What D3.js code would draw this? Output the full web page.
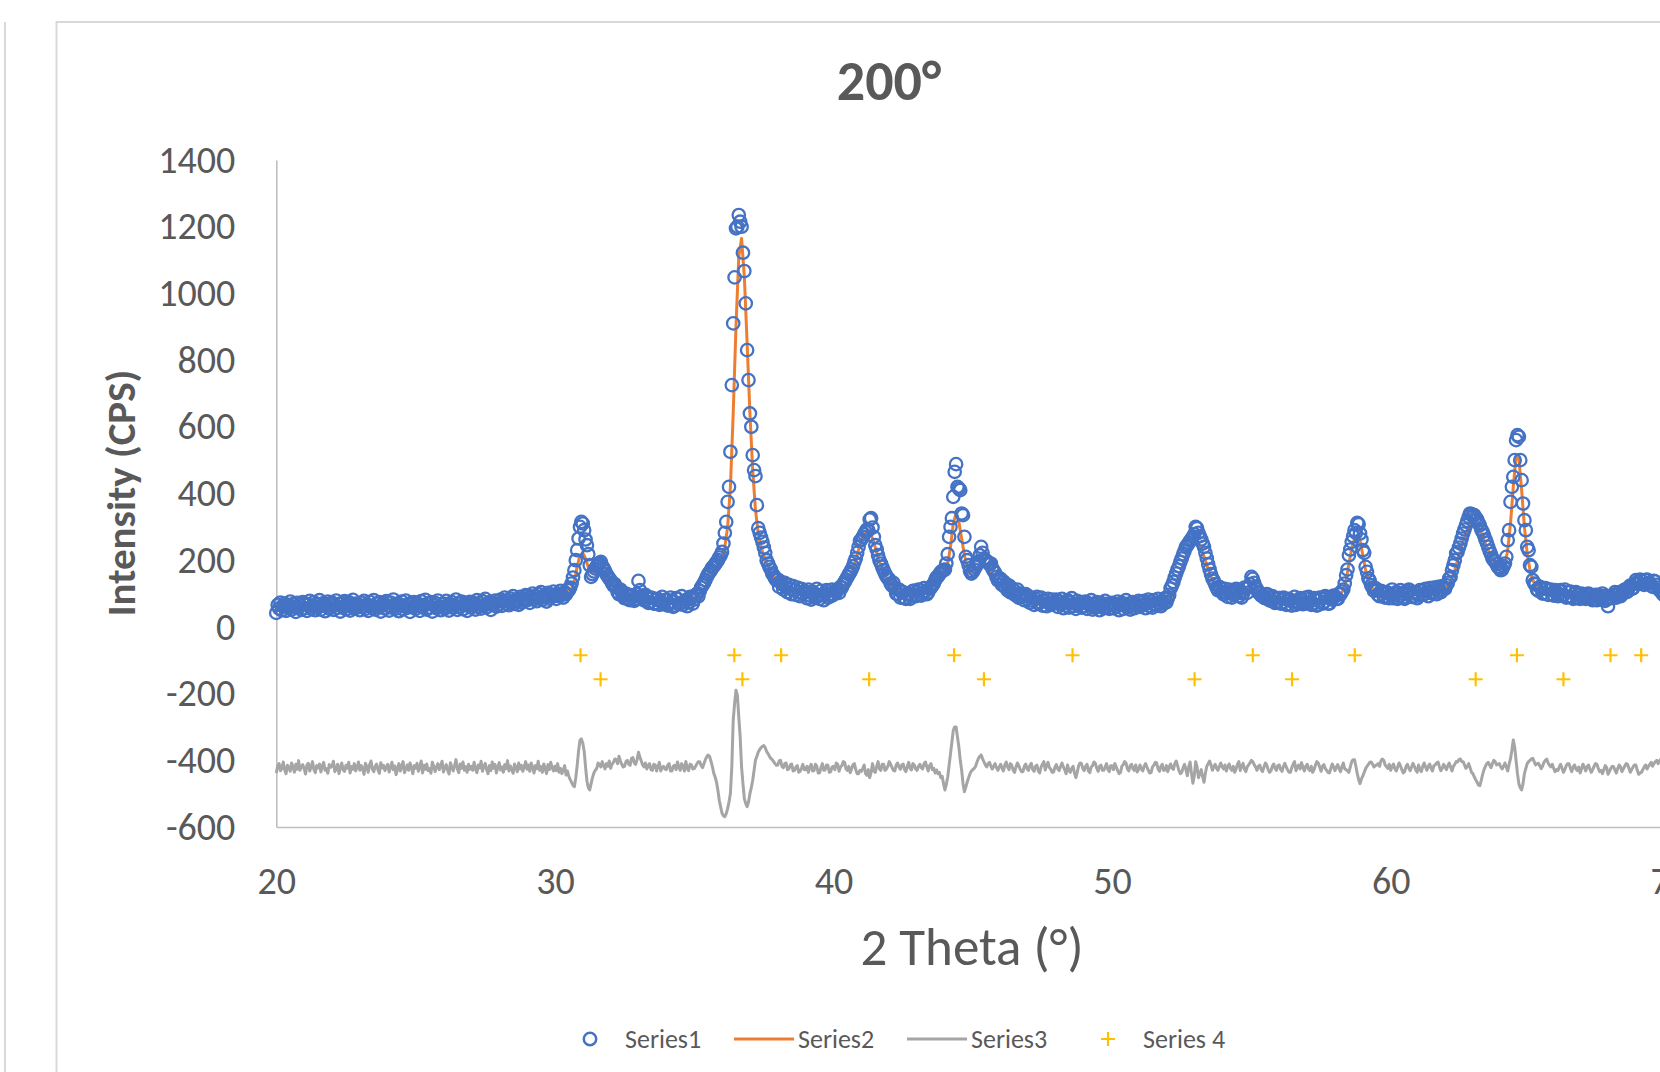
<!DOCTYPE html>
<html>
<head>
<meta charset="utf-8">
<script src="https://d3js.org/d3.v7.min.js"></script>
<style>
  body { margin: 0; background: #fff; }
  svg { display: block; }
  text { font-family: Carlito, Calibri, Lato, sans-serif; fill: #595959; }
</style>
</head>
<body>
<div id="chartRegion"></div>
<script>
/* measured pattern: 2 theta from 20 in steps of 0.05 deg, one row per degree */
var thetaStart = 20, obsStep = 0.05, calcStep = 0.1;

var observed = [
  42, 66, 55, 73, 50, 62, 70, 48, 64, 57, 76, 52, 68, 60, 45, 72, 58, 66, 51, 74,
  56, 70, 48, 66, 78, 54, 63, 74, 50, 68, 59, 80, 52, 65, 71, 47, 62, 76, 55, 69,
  73, 51, 64, 79, 57, 68, 46, 71, 60, 77, 53, 66, 74, 49, 62, 81, 56, 70, 58, 67,
  50, 72, 61, 78, 54, 66, 48, 75, 63, 57, 80, 52, 69, 60, 74, 46, 65, 71, 55, 77,
  64, 49, 73, 58, 82, 61, 55, 70, 47, 67, 76, 53, 62, 79, 57, 68, 45, 72, 60, 74,
  54, 71, 63, 48, 77, 59, 66, 81, 52, 69, 58, 74, 46, 65, 72, 56, 79, 61, 50, 68,
  70, 55, 78, 61, 49, 67, 74, 57, 64, 82, 51, 69, 60, 76, 53, 66, 72, 48, 63, 75,
  58, 73, 66, 52, 80, 62, 70, 55, 77, 64, 84, 59, 68, 74, 51, 72, 66, 79, 61, 76,
  68, 82, 63, 77, 88, 70, 79, 65, 85, 74, 92, 69, 81, 76, 66, 90, 73, 84, 78, 95,
  80, 94, 72, 88, 100, 83, 91, 77, 98, 86, 104, 81, 93, 89, 76, 102, 85, 96, 90, 106,
  95, 84, 100, 92, 108, 96, 88, 104, 98, 112, 110, 118, 130, 148, 170, 200, 230, 265, 300, 315,
  310, 290, 262, 245, 218, 185, 150, 158, 166, 175, 182, 188, 191, 195, 182, 176, 168, 158, 152, 145,
  140, 132, 124, 128, 118, 105, 98, 112, 104, 92, 86, 100, 96, 82, 80, 95, 94, 78, 84, 98,
  138, 110, 92, 86, 80, 96, 90, 72, 74, 88, 86, 70, 70, 82, 84, 66, 76, 90, 68, 80,
  82, 64, 70, 88, 76, 60, 64, 86, 84, 68, 72, 92, 66, 74, 80, 62, 74, 90, 86, 70,
  82, 96, 98, 92, 108, 118, 125, 132, 140, 150, 158, 164, 170, 178, 182, 188, 194, 200, 208, 215,
  225, 250, 282, 315, 375, 420, 525, 725, 910, 1048, 1195, 1200, 1235, 1215, 1200, 1122, 1067, 970, 830, 740,
  640, 600, 515, 470, 452, 365, 296, 282, 268, 255, 238, 222, 200, 190, 180, 172, 160, 154, 146, 140,
  142, 120, 136, 128, 112, 132, 118, 104, 126, 114, 98, 122, 110, 96, 118, 104, 92, 114, 100, 108,
  104, 86, 112, 94, 82, 106, 98, 88, 114, 92, 84, 108, 96, 80, 102, 110, 88, 98, 92, 112,
  96, 108, 104, 112, 102, 120, 118, 128, 135, 142, 150, 158, 164, 172, 182, 195, 205, 222, 240, 258,
  262, 270, 278, 285, 292, 290, 322, 326, 298, 270, 245, 232, 215, 200, 190, 180, 170, 160, 152, 146,
  142, 130, 124, 132, 116, 100, 98, 112, 88, 104, 104, 86, 84, 100, 98, 84, 92, 108, 108, 92,
  96, 112, 110, 94, 100, 116, 108, 98, 104, 114, 118, 124, 130, 140, 148, 152, 158, 164, 168, 170,
  172, 190, 218, 270, 300, 326, 390, 465, 488, 420, 415, 410, 340, 335, 270, 210, 200, 185, 168, 160,
  165, 172, 180, 188, 195, 215, 240, 222, 205, 200, 198, 192, 188, 190, 175, 168, 162, 150, 140, 146,
  144, 126, 136, 120, 128, 110, 124, 104, 116, 100, 108, 94, 112, 88, 100, 90, 96, 80, 98, 84,
  92, 72, 86, 78, 66, 84, 90, 70, 74, 88, 64, 80, 76, 62, 84, 72, 66, 82, 70, 74,
  82, 60, 76, 68, 84, 56, 72, 64, 80, 58, 74, 86, 62, 70, 54, 78, 66, 72, 58, 74,
  62, 76, 54, 70, 64, 80, 52, 68, 58, 74, 62, 50, 72, 64, 56, 78, 60, 70, 54, 66,
  72, 56, 68, 60, 76, 50, 66, 72, 54, 64, 80, 58, 70, 52, 64, 74, 56, 68, 62, 78,
  60, 74, 66, 78, 56, 70, 82, 62, 76, 58, 80, 68, 64, 84, 72, 62, 78, 70, 86, 74,
  86, 96, 115, 124, 135, 148, 160, 172, 182, 195, 205, 218, 228, 240, 245, 252, 258, 264, 270, 278,
  300, 296, 282, 272, 262, 250, 240, 222, 205, 188, 172, 158, 145, 138, 128, 118, 110, 120, 116, 104,
  98, 114, 104, 90, 112, 100, 88, 106, 96, 114, 110, 92, 104, 88, 100, 118, 114, 102, 120, 128,
  150, 144, 132, 120, 112, 104, 100, 94, 94, 88, 86, 98, 96, 80, 78, 92, 88, 72, 74, 86,
  86, 70, 72, 88, 84, 66, 68, 84, 80, 64, 74, 90, 66, 76, 70, 86, 82, 68, 70, 88,
  72, 90, 84, 66, 68, 86, 80, 64, 66, 88, 86, 70, 74, 92, 88, 70, 70, 88, 82, 94,
  92, 84, 84, 100, 98, 106, 112, 130, 155, 172, 215, 232, 255, 272, 290, 282, 312, 308, 280, 262,
  230, 222, 180, 165, 145, 138, 125, 118, 108, 116, 112, 96, 92, 108, 106, 90, 88, 104, 102, 86,
  96, 112, 86, 100, 104, 84, 92, 110, 100, 88, 84, 106, 98, 112, 108, 90, 90, 104, 102, 86,
  94, 110, 110, 96, 98, 114, 106, 92, 116, 104, 100, 118, 112, 98, 120, 110, 104, 122, 118, 114,
  125, 132, 145, 150, 170, 185, 200, 220, 225, 238, 250, 265, 280, 292, 305, 318, 330, 340, 338, 332,
  335, 328, 322, 312, 305, 292, 285, 275, 262, 252, 240, 228, 218, 206, 200, 196, 188, 180, 176, 170,
  172, 182, 190, 210, 260, 290, 375, 420, 450, 500, 560, 575, 570, 500, 440, 370, 320, 290, 240, 230,
  185, 180, 140, 130, 128, 112, 108, 120, 118, 100, 102, 116, 114, 96, 110, 112, 98, 94, 110, 104,
  92, 108, 110, 94, 96, 112, 88, 90, 104, 106, 90, 84, 100, 104, 86, 98, 84, 100, 92, 86,
  84, 98, 100, 86, 94, 80, 82, 96, 80, 96, 88, 82, 100, 92, 78, 84, 62, 90, 90, 86,
  96, 104, 88, 98, 104, 92, 98, 108, 112, 104, 106, 118, 124, 114, 116, 130, 140, 134, 130, 142,
  138, 128, 126, 140, 142, 130, 132, 124, 120, 138, 136, 126, 118, 110, 108, 100, 96, 94, 92, 88,
  86
];

/* difference curve, same 0.05 deg steps */
var difference = [
  -438, -418, -410, -431, -424, -405, -429, -440, -415, -422, -433, -408, -420, -436, -412, -427, -401, -430, -419, -413,
  -426, -441, -414, -409, -432, -420, -404, -428, -437, -416, -423, -411, -435, -418, -406, -430, -425, -439, -413, -421,
  -417, -403, -434, -426, -412, -440, -421, -408, -429, -433, -415, -424, -406, -438, -419, -427, -410, -432, -422, -405,
  -430, -416, -425, -442, -409, -419, -436, -413, -402, -427, -434, -418, -411, -429, -439, -407, -423, -415, -431, -420,
  -412, -435, -421, -406, -428, -417, -443, -424, -410, -432, -419, -404, -437, -426, -414, -430, -408, -422, -440, -416,
  -424, -409, -433, -420, -402, -438, -415, -427, -411, -431, -425, -439, -406, -418, -434, -421, -410, -428, -416, -403,
  -435, -422, -413, -429, -441, -407, -420, -432, -416, -398, -426, -437, -411, -424, -405, -430, -419, -436, -412, -427,
  -418, -430, -406, -425, -437, -414, -423, -403, -433, -419, -409, -428, -440, -416, -431, -405, -424, -412, -438, -421,
  -407, -429, -420, -436, -413, -425, -401, -432, -417, -428, -439, -411, -422, -434, -408, -426, -415, -433, -419, -404,
  -427, -414, -433, -408, -421, -438, -416, -425, -403, -430, -419, -436, -411, -424, -440, -413, -428, -406, -422, -432,
  -418, -431, -410, -436, -424, -440, -428, -416, -444, -432, -448, -458, -466, -475, -479, -452, -415, -372, -340, -336,
  -348, -372, -420, -462, -482, -489, -470, -452, -438, -430, -425, -408, -412, -420, -404, -416, -426, -410, -418, -402,
  -424, -412, -406, -396, -398, -410, -388, -402, -412, -420, -418, -404, -400, -412, -415, -394, -392, -408, -412, -398,
  -376, -390, -402, -414, -420, -408, -426, -416, -410, -428, -430, -412, -414, -432, -418, -406, -432, -422, -418, -426,
  -428, -414, -410, -432, -432, -418, -415, -428, -405, -420, -430, -410, -418, -432, -404, -424, -431, -412, -414, -426,
  -425, -418, -410, -404, -404, -416, -422, -410, -398, -390, -384, -388, -402, -418, -438, -450, -465, -490, -520, -540,
  -559, -566, -569, -560, -545, -525, -499, -420, -280, -230, -190, -205, -270, -330, -420, -470, -515, -530, -539, -525,
  -500, -482, -460, -430, -399, -388, -375, -368, -362, -358, -356, -362, -374, -380, -388, -394, -398, -404, -410, -415,
  -414, -402, -400, -418, -422, -410, -408, -428, -426, -414, -411, -432, -430, -420, -416, -436, -433, -424, -412, -428,
  -428, -418, -436, -420, -412, -432, -431, -412, -417, -438, -438, -422, -410, -430, -429, -414, -415, -436, -434, -420,
  -418, -428, -408, -412, -433, -420, -416, -404, -406, -426, -430, -418, -437, -426, -413, -410, -428, -440, -440, -430,
  -433, -424, -414, -440, -445, -428, -452, -436, -410, -432, -436, -418, -404, -426, -430, -412, -412, -430, -426, -418,
  -404, -412, -421, -430, -432, -414, -408, -420, -427, -414, -411, -428, -434, -418, -406, -424, -429, -410, -414, -426,
  -430, -418, -412, -422, -426, -410, -405, -420, -432, -416, -410, -428, -424, -438, -429, -440, -436, -452, -448, -470,
  -489, -472, -450, -415, -380, -345, -310, -300, -300, -330, -360, -400, -430, -470, -494, -480, -465, -452, -440, -432,
  -428, -424, -418, -405, -395, -388, -384, -395, -405, -414, -420, -410, -406, -418, -426, -418, -410, -422, -430, -420,
  -412, -424, -432, -414, -405, -420, -428, -410, -415, -430, -436, -420, -408, -416, -427, -434, -434, -418, -411, -426,
  -430, -416, -409, -428, -433, -418, -414, -432, -438, -420, -412, -404, -429, -416, -406, -422, -427, -436, -435, -420,
  -413, -426, -431, -418, -408, -420, -429, -440, -414, -430, -436, -424, -418, -438, -452, -436, -416, -408, -410, -425,
  -431, -418, -412, -432, -437, -420, -416, -405, -409, -424, -433, -418, -414, -430, -430, -420, -410, -428, -434, -416,
  -416, -428, -410, -420, -431, -440, -437, -418, -413, -404, -408, -426, -432, -416, -412, -426, -430, -414, -435, -428,
  -414, -426, -432, -418, -410, -420, -430, -438, -437, -420, -415, -406, -408, -426, -433, -418, -412, -430, -429, -416,
  -434, -420, -411, -424, -427, -410, -402, -416, -431, -440, -436, -422, -412, -428, -446, -420, -405, -440, -469, -446,
  -404, -420, -452, -440, -428, -450, -466, -438, -418, -410, -402, -414, -430, -420, -412, -424, -430, -418, -408, -420,
  -426, -414, -432, -420, -411, -424, -430, -418, -436, -426, -412, -404, -431, -418, -409, -426, -434, -420, -414, -408,
  -400, -404, -413, -420, -430, -418, -414, -428, -434, -420, -408, -414, -428, -436, -432, -418, -411, -424, -430, -416,
  -414, -428, -433, -418, -409, -420, -429, -436, -436, -422, -411, -404, -431, -420, -414, -426, -407, -420, -432, -418,
  -412, -426, -431, -418, -436, -428, -414, -404, -408, -420, -433, -418, -413, -424, -430, -436, -438, -424, -411, -420,
  -431, -420, -413, -426, -434, -418, -408, -426, -428, -432, -436, -420, -404, -398, -398, -418, -440, -458, -470, -456,
  -447, -436, -425, -418, -412, -406, -405, -412, -420, -416, -414, -410, -418, -402, -396, -400, -414, -420, -424, -412,
  -430, -418, -411, -426, -432, -420, -408, -416, -428, -438, -434, -418, -412, -424, -431, -420, -409, -418, -429, -436,
  -414, -428, -434, -418, -408, -420, -430, -418, -411, -424, -432, -416, -414, -408, -405, -420, -431, -424, -412, -420,
  -428, -416, -408, -420, -432, -418, -412, -404, -405, -398, -396, -404, -404, -414, -424, -418, -410, -422, -436, -440,
  -450, -458, -466, -474, -476, -460, -442, -428, -418, -410, -406, -414, -422, -410, -400, -404, -414, -412, -410, -420,
  -426, -418, -408, -420, -432, -412, -395, -370, -339, -360, -400, -440, -470, -482, -489, -470, -440, -424, -410, -404,
  -400, -396, -394, -404, -414, -410, -409, -416, -425, -418, -406, -400, -396, -408, -415, -420, -412, -424, -434, -428,
  -431, -420, -412, -424, -436, -428, -416, -410, -410, -424, -434, -420, -414, -426, -431, -420, -438, -426, -412, -420,
  -432, -420, -414, -426, -436, -428, -418, -410, -412, -424, -434, -430, -440, -428, -416, -422, -442, -434, -424, -418,
  -419, -430, -438, -424, -414, -420, -434, -426, -418, -410, -412, -424, -436, -428, -420, -414, -414, -430, -442, -438,
  -436, -428, -420, -414, -426, -418, -412, -406, -418, -410, -404, -400, -410, -402, -396, -400, -402, -396, -398, -402,
  -400
];

/* fitted pattern, 0.1 deg steps, one row per degree */
var calculated = [
  58, 59, 60, 60, 61, 61, 61, 62, 62, 62,
  62, 62, 62, 62, 62, 62, 62, 62, 62, 62,
  62, 62, 62, 62, 62, 62, 62, 62, 62, 62,
  62, 62, 62, 62, 62, 62, 62, 62, 62, 62,
  62, 62, 62, 62, 62, 62, 62, 62, 62, 62,
  62, 62, 62, 62, 62, 62, 62, 62, 62, 62,
  62, 62, 62, 62, 62, 63, 63, 63, 63, 64,
  64, 64, 65, 65, 66, 66, 67, 67, 68, 69,
  70, 71, 72, 73, 74, 75, 76, 77, 78, 79,
  80, 81, 82, 83, 84, 85, 86, 88, 89, 90,
  92, 93, 95, 97, 100, 105, 115, 140, 180, 215,
  222, 205, 178, 165, 168, 174, 176, 170, 158, 145,
  132, 120, 110, 102, 96, 92, 89, 87, 86, 85,
  84, 83, 82, 81, 80, 80, 79, 79, 79, 79,
  79, 79, 79, 79, 80, 80, 81, 82, 83, 84,
  86, 90, 98, 108, 120, 135, 150, 165, 180, 195,
  212, 240, 300, 420, 640, 900, 1110, 1165, 1050, 850,
  640, 470, 350, 280, 240, 212, 190, 170, 155, 144,
  135, 128, 122, 117, 113, 110, 107, 105, 103, 101,
  99, 98, 97, 96, 96, 96, 96, 97, 98, 99,
  100, 102, 105, 110, 118, 130, 148, 170, 200, 232,
  258, 276, 285, 282, 265, 238, 208, 182, 162, 146,
  133, 122, 113, 106, 101, 98, 97, 97, 98, 100,
  102, 104, 107, 111, 116, 122, 132, 145, 155, 162,
  168, 190, 240, 310, 340, 315, 265, 215, 180, 165,
  163, 170, 182, 192, 190, 180, 168, 155, 143, 133,
  124, 116, 109, 103, 98, 94, 90, 87, 84, 82,
  80, 78, 77, 76, 75, 74, 73, 72, 71, 70,
  70, 69, 69, 68, 68, 67, 67, 67, 66, 66,
  66, 66, 65, 65, 65, 65, 65, 65, 65, 65,
  65, 65, 65, 65, 66, 66, 66, 66, 67, 67,
  67, 68, 68, 69, 70, 70, 71, 72, 73, 75,
  78, 85, 98, 118, 145, 172, 200, 225, 242, 252,
  255, 250, 235, 212, 185, 160, 140, 125, 114, 107,
  102, 99, 97, 96, 96, 97, 99, 102, 106, 110,
  118, 115, 108, 100, 94, 89, 86, 84, 82, 81,
  80, 79, 78, 78, 78, 78, 78, 78, 78, 78,
  78, 78, 78, 79, 79, 80, 81, 82, 83, 85,
  88, 92, 98, 110, 140, 190, 235, 265, 275, 258,
  215, 170, 138, 120, 110, 104, 100, 98, 97, 96,
  96, 96, 96, 96, 96, 97, 97, 98, 99, 100,
  101, 102, 103, 105, 107, 109, 111, 113, 116, 119,
  123, 130, 145, 170, 200, 228, 255, 278, 296, 308,
  310, 302, 288, 270, 250, 230, 212, 198, 188, 182,
  180, 188, 230, 310, 420, 510, 505, 410, 300, 220,
  170, 140, 125, 116, 111, 108, 106, 104, 102, 100,
  99, 98, 97, 96, 95, 94, 93, 92, 91, 90,
  90, 89, 89, 88, 88, 88, 88, 88, 89, 90,
  92, 94, 97, 101, 106, 112, 118, 124, 128, 130,
  131, 131, 130, 129, 127, 124, 118, 108, 98, 92,
  88
];

/* reflection markers (Series 4), two rows */
var markTheta = [30.92, 36.44, 38.12, 44.33, 48.58, 55.05, 58.71, 64.53, 67.89, 68.99,
                 31.64, 36.73, 41.28, 45.40, 52.96, 56.46, 63.05, 66.20];
var markLevel = [-85, -85, -85, -85, -85, -85, -85, -85, -85, -85,
                 -157, -157, -157, -157, -157, -157, -157, -157];

var xTicks = [20, 30, 40, 50, 60, 70];
var yTicks = [-600, -400, -200, 0, 200, 400, 600, 800, 1000, 1200, 1400];
var seriesNames = ["Series1", "Series2", "Series3", "Series 4"];

var BLUE = "#4472C4", ORANGE = "#ED7D31", GRAY = "#A5A5A5", GOLD = "#FFC000";
var PLUS = "M-7,0H7M0,-7V7";

function plotXRD() {
	var W = 1660, H = 1072;
	var svg = d3.select("#chartRegion").append("svg").attr("width", W).attr("height", H);

	/* chart frame, runs off the right and bottom of the picture */
	svg.append("line").attr("x1", 5).attr("x2", 5).attr("y1", 22).attr("y2", H)
		.attr("stroke", "#d9d9d9").attr("stroke-width", 2);
	svg.append("rect").attr("x", 56.5).attr("y", 22).attr("width", W).attr("height", H)
		.attr("fill", "none").attr("stroke", "#d9d9d9").attr("stroke-width", 2);

	var x = d3.scaleLinear().domain([20, 70]).range([276.3, 1669.3]);
	var y = d3.scaleLinear().domain([-600, 1400]).range([827, 160]);

	var obsPts = observed.map(function(v, i) {
		return {t: thetaStart + i * obsStep, obs: v, diff: difference[i]};
	});
	var calcPts = calculated.map(function(v, i) {
		return {t: thetaStart + i * calcStep, calc: v};
	});

	var gy = svg.append("g").attr("transform", "translate(" + x(20) + ",0)")
		.call(d3.axisLeft(y).tickValues(yTicks).tickSize(0).tickPadding(41).tickFormat(function(d) { return String(d); }));
	var gx = svg.append("g").attr("transform", "translate(0," + y(-600) + ")")
		.call(d3.axisBottom(x).tickValues(xTicks).tickSize(0).tickPadding(40).tickFormat(function(d) { return String(d); }));
	[gy, gx].forEach(function(g) {
		g.select(".domain").attr("stroke", "#bfbfbf").attr("stroke-width", 1.6);
		g.selectAll("text").attr("font-size", 38).attr("fill", "#595959")
			.attr("font-family", "Carlito, Calibri, Lato, sans-serif");
	});

	/* calc line first so the circles sit on top of it */
	var line = function(key) {
		return d3.line().x(function(d) { return x(d.t); }).y(function(d) { return y(d[key]); });
	};
	svg.append("path").datum(calcPts).attr("d", line("calc"))
		.attr("fill", "none").attr("stroke", ORANGE).attr("stroke-width", 3).attr("stroke-linejoin", "round");

	svg.append("g").selectAll("circle").data(obsPts).join("circle")
		.attr("cx", function(d) { return x(d.t); })
		.attr("cy", function(d) { return y(d.obs); })
		.attr("r", 6.2)
		.attr("fill", "none").attr("stroke", BLUE).attr("stroke-width", 2.3);

	svg.append("path").datum(obsPts).attr("d", line("diff"))
		.attr("fill", "none").attr("stroke", GRAY).attr("stroke-width", 3).attr("stroke-linejoin", "round");

	svg.append("g").selectAll("path").data(markTheta).join("path")
		.attr("d", PLUS)
		.attr("transform", function(d, i) { return "translate(" + x(d) + "," + y(markLevel[i]) + ")"; })
		.attr("stroke", GOLD).attr("stroke-width", 2.2);

	/* titles */
	svg.append("text").attr("x", 889).attr("y", 100).attr("text-anchor", "middle")
		.attr("font-size", 56).attr("font-weight", "bold").text("200°");
	svg.append("text").attr("x", 972).attr("y", 965).attr("text-anchor", "middle")
		.attr("font-size", 53).text("2 Theta (°)");
	svg.append("text").attr("transform", "translate(135,493) rotate(-90)").attr("text-anchor", "middle")
		.attr("font-size", 41).attr("font-weight", "bold").text("Intensity (CPS)");

	/* legend */
	var ly = 1039;
	var leg = svg.append("g");
	leg.append("circle").attr("cx", 590).attr("cy", ly).attr("r", 6.2)
		.attr("fill", "none").attr("stroke", BLUE).attr("stroke-width", 2.5);
	leg.append("line").attr("x1", 734).attr("x2", 794).attr("y1", ly).attr("y2", ly)
		.attr("stroke", ORANGE).attr("stroke-width", 3.2);
	leg.append("line").attr("x1", 907).attr("x2", 967).attr("y1", ly).attr("y2", ly)
		.attr("stroke", GRAY).attr("stroke-width", 3.2);
	leg.append("path").attr("d", PLUS).attr("transform", "translate(1108," + ly + ")")
		.attr("stroke", GOLD).attr("stroke-width", 2.2);
	var textX = [625, 798, 971, 1143];
	leg.selectAll("text").data(seriesNames).join("text")
		.attr("x", function(d, i) { return textX[i]; }).attr("y", ly).attr("dy", "0.35em")
		.attr("font-size", 26).text(function(d) { return d; });
}

plotXRD();
</script>
</body>
</html>
